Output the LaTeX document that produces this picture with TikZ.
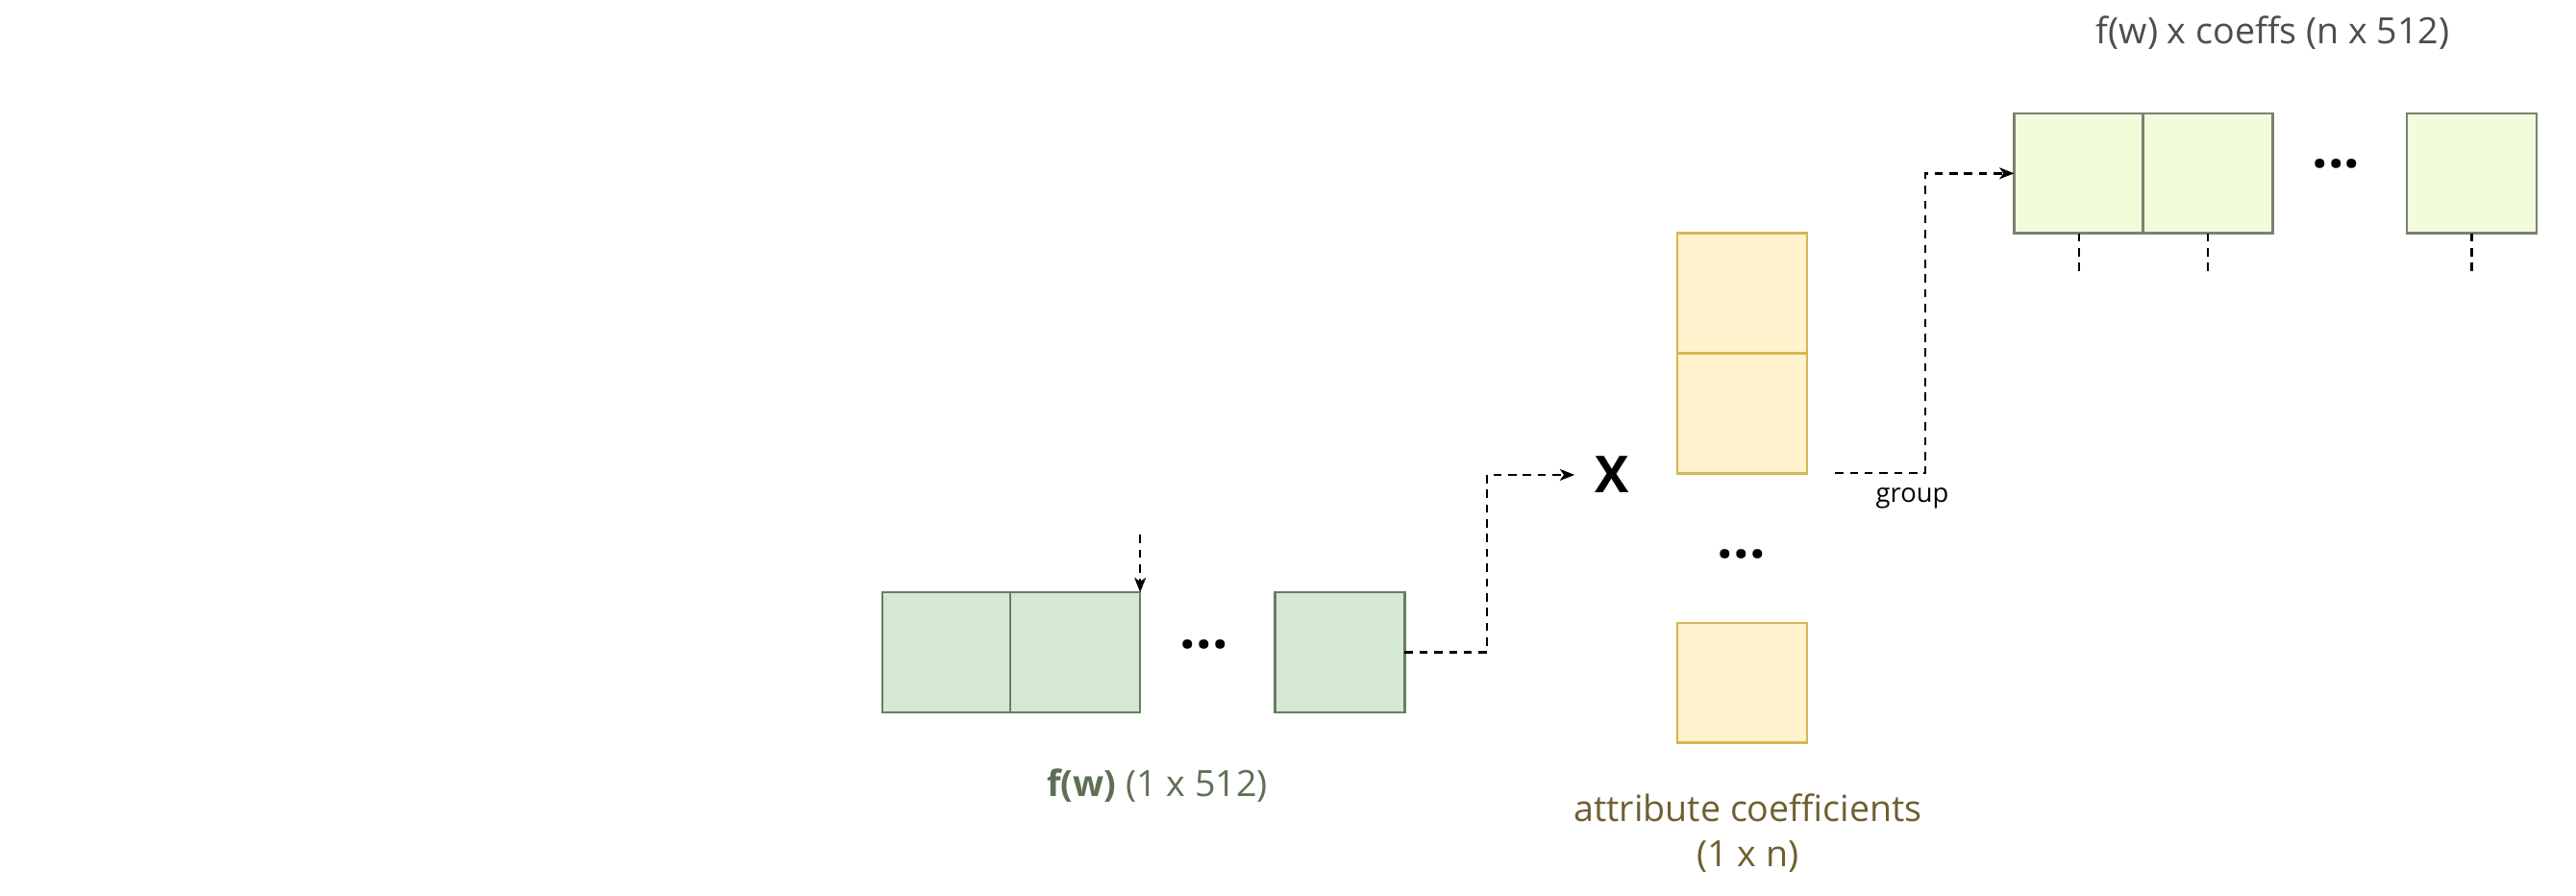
\documentclass[tikz,border=0pt]{standalone}
\usepackage{fontspec}
\setmainfont{Open Sans}
\usetikzlibrary{arrows.meta}
\definecolor{gfill}{HTML}{D5E8D4}
\definecolor{gstroke}{HTML}{6A7D62}
\definecolor{lfill}{HTML}{F0FCDA}
\definecolor{lstroke}{HTML}{7A8270}
\definecolor{yfill}{HTML}{FFF2CC}
\definecolor{ystroke}{HTML}{D6B656}
\definecolor{gtext}{HTML}{5F6F55}
\definecolor{ytext}{HTML}{6F5F30}
\definecolor{ttext}{HTML}{4D4D4D}
\tikzset{
  cell/.style={draw, line width=1.5pt, minimum width=79pt, minimum height=73pt, inner sep=0pt, outer sep=0pt},
  gcell/.style={cell, draw=gstroke, fill=gfill},
  lcell/.style={cell, draw=lstroke, fill=lfill},
  ycell/.style={cell, draw=ystroke, fill=yfill},
  conn/.style={line width=1.4pt, dash pattern=on 5pt off 4pt, -{Stealth[length=9pt,width=7pt,inset=2.5pt]}},
  plainconn/.style={line width=1.4pt, dash pattern=on 5pt off 4pt},
  dotsnode/.style={font=\fontsize{34}{36}\selectfont\bfseries, inner sep=0pt},
  lbl/.style={font=\fontsize{22}{27}\selectfont, align=center, inner sep=0pt}
}
\begin{document}
\begin{tikzpicture}[x=1pt,y=-1pt]
\useasboundingbox (0,0) rectangle (1568,545);
% bottom green row
\node[gcell] (g1) at (576.5,397) {};
\node[gcell] (g2) at (654.5,397) {};
\node[dotsnode] (gd) at (733,392) {...};
\node[gcell] (g3) at (815.5,397) {};
\node[lbl, text=gtext] (glbl) at (704.5,478) {\textbf{f(w)} (1 x 512)};
\draw[conn] (g2.north east) ++(0,-35) coordinate (gin) -- (g2.north east);
% multiply sign
\node[font=\fontsize{31}{34}\selectfont\bfseries, inner sep=12pt] (x) at (981,289) {X};
\draw[conn] (g3.east) -- (905,397) |- (x.west);
% yellow column
\node[ycell] (y1) at (1060.5,178.5) {};
\node[ycell] (y2) at (1060.5,251.5) {};
\node[dotsnode] (yd) at (1060,337) {...};
\node[ycell] (y3) at (1060.5,415.5) {};
\node[lbl, text=ytext] (ylbl) at (1064,507) {attribute coefficients\\(1 x n)};
% group connector
\coordinate (gs) at (1117,288);
\node[font=\fontsize{16}{18}\selectfont, inner sep=0pt] (grp) at (1164,303) {group};
% top light row
\node[lcell] (t1) at (1265.5,105.5) {};
\node[lcell] (t2) at (1344,105.5) {};
\node[dotsnode] (td) at (1422,100) {...};
\node[lcell] (t3) at (1504.5,105.5) {};
\node[lbl, text=ttext] (tlbl) at (1383.5,20) {f(w) x coeffs (n x 512)};
\draw[conn] (gs) -- (1172,288) |- (t1.west);
\coordinate (e1) at (1265.5,168);
\coordinate (e2) at (1344,168);
\coordinate (e3) at (1504.5,168);
\draw[plainconn] (t1.south) -- (e1);
\draw[plainconn] (t2.south) -- (e2);
\draw[plainconn] (t3.south) -- (e3);
\end{tikzpicture}
\end{document}
